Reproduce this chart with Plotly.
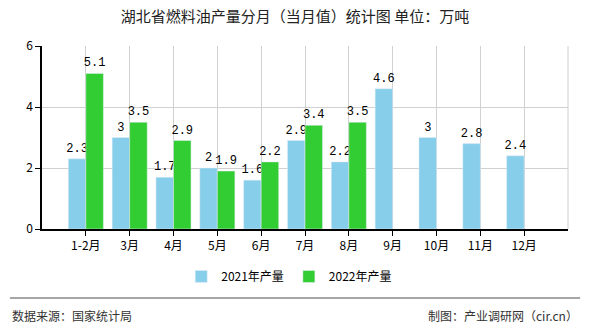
import plotly.graph_objects as go

months = ["1-2月", "3月", "4月", "5月", "6月", "7月", "8月", "9月", "10月", "11月", "12月"]
y2021 = [2.3, 3, 1.7, 2, 1.6, 2.9, 2.2, 4.6, 3, 2.8, 2.4]
y2022 = [5.1, 3.5, 2.9, 1.9, 2.2, 3.4, 3.5]
months2022 = months[:len(y2022)]
yticks = [0, 2, 4, 6]

FONT = "Noto Sans CJK SC"
lab_font = dict(family="Liberation Mono", size=12, color="#000000")

fig = go.Figure()
fig.add_trace(go.Bar(
    x=months, y=y2021, name="2021年产量", marker_color="#87CEEB",
    text=[f"{v:g}" for v in y2021], textposition="outside", textfont=lab_font,
    constraintext="none", cliponaxis=False,
))
fig.add_trace(go.Bar(
    x=months2022, y=y2022, name="2022年产量", marker_color="#32CD32",
    text=[f"{v:g}" for v in y2022], textposition="outside", textfont=lab_font,
    constraintext="none", cliponaxis=False,
))

fig.update_layout(
    width=590, height=330,
    margin=dict(l=42, r=22, t=46, b=101),
    paper_bgcolor="white", plot_bgcolor="white",
    barmode="group", bargap=0.2, bargroupgap=0,
    font=dict(family=FONT, size=12, color="#000000"),
    title=dict(text="湖北省燃料油产量分月（当月值）统计图 单位：万吨",
               x=0.5, xanchor="center", y=0.948, yanchor="middle",
               font=dict(family=FONT, size=15, color="#222222")),
    showlegend=True,
    legend=dict(orientation="h", x=0.47, xanchor="center", y=-0.18, yanchor="top",
                bgcolor="rgba(0,0,0,0)",
                font=dict(family=FONT, size=12, color="#000000"), itemwidth=30,
                traceorder="normal"),
    xaxis=dict(type="category", categoryorder="array", categoryarray=months,
               range=[-1, 11], showgrid=True, gridcolor="#d0d0d0", gridwidth=1,
               showline=True, linecolor="#000000", linewidth=1.5,
               ticks="outside", ticklen=5, tickcolor="#000000",
               tickfont=dict(family=FONT, size=12, color="#000000"), fixedrange=True),
    yaxis=dict(range=[0, 6], tickvals=yticks, showgrid=True, gridcolor="#d0d0d0",
               showline=True, linecolor="#000000", linewidth=1.5,
               ticks="outside", ticklen=5, tickcolor="#000000", zeroline=False,
               tickfont=dict(family=FONT, size=12, color="#000000"), fixedrange=True),
    shapes=[
        dict(type="line", xref="paper", yref="paper", x0=1, x1=1, y0=0, y1=1,
             line=dict(color="#d0d0d0", width=1), layer="below"),
        dict(type="line", xref="paper", yref="paper", x0=-0.061, x1=1.023,
             y0=-0.377, y1=-0.377, line=dict(color="#888888", width=1.5)),
    ],
    annotations=[
        dict(text="数据来源：国家统计局", xref="paper", yref="paper",
             x=-0.061, y=-0.475, xanchor="left", yanchor="middle", showarrow=False,
             font=dict(family=FONT, size=12, color="#333333")),
        dict(text="制图：产业调研网（cir.cn）", xref="paper", yref="paper",
             x=1.023, y=-0.475, xanchor="right", yanchor="middle", showarrow=False,
             font=dict(family=FONT, size=12, color="#333333")),
    ],
)

fig.write_html("out.html")
